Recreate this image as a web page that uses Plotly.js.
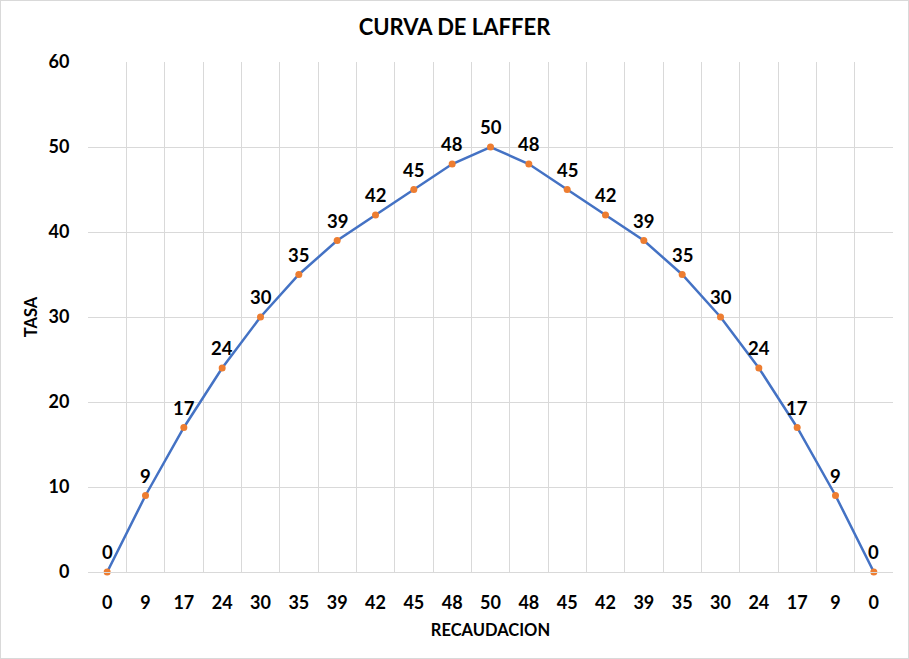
<!DOCTYPE html>
<html>
<head>
<meta charset="utf-8">
<script src="https://cdn.plot.ly/plotly-3.0.1.min.js"></script>
<style>
html,body{margin:0;padding:0;background:#fff;}
#wrap{position:relative;width:909px;height:659px;}
#chart{width:909px;height:659px;}
#frame{position:absolute;left:0;top:0;width:907px;height:657px;border:1px solid #d9d9d9;pointer-events:none;}
</style>
</head>
<body>
<div id="wrap"><div id="chart"></div><div id="frame"></div></div>
<script>
const categories = ["0","9","17","24","30","35","39","42","45","48","50","48","45","42","39","35","30","24","17","9","0"];
const values = [0,9,17,24,30,35,39,42,45,48,50,48,45,42,39,35,30,24,17,9,0];
const yTicks = [0,10,20,30,40,50,60];

const idx = categories.map((c,i)=>i);
const bounds = [];
for (let i = 0; i <= categories.length; i++) bounds.push(i - 0.5);

const FONT = "Lato, 'Open Sans', 'Liberation Sans', sans-serif";

const trace = {
  x: idx, y: values, type: 'scatter', mode: 'lines+markers',
  line: {color: '#4472C4', width: 2.5},
  marker: {color: '#ED7D31', size: 7},
  cliponaxis: false, hoverinfo: 'skip', xaxis: 'x', yaxis: 'y'
};
const gridTrace = {x: [0], y: [0], mode: 'markers', marker: {opacity: 0}, xaxis: 'x2', yaxis: 'y', hoverinfo: 'skip', showlegend: false};

const labels = values.map((v, i) => ({
  x: idx[i], y: v, xref: 'x', yref: 'y', text: String(v), showarrow: false,
  yanchor: 'middle', xanchor: 'center', yshift: 20,
  font: {family: FONT, size: 18.5, color: '#000', weight: 'bold'}
}));

const range = [-0.5, categories.length - 0.5];
const layout = {
  width: 909, height: 659,
  margin: {l: 88, r: 16, t: 62, b: 87},
  paper_bgcolor: '#fff', plot_bgcolor: '#fff',
  showlegend: false,
  annotations: labels,
  title: {text: 'CURVA DE LAFFER', x: 0.5, xref: 'container', xanchor: 'center', y: 0.959, yref: 'container', yanchor: 'middle',
          font: {family: FONT, size: 22, color: '#000', weight: 'bold'}},
  xaxis: {
    range: range, tickvals: idx, ticktext: categories, showgrid: false, zeroline: false,
    showline: true, linecolor: '#d9d9d9', linewidth: 1,
    ticks: 'outside', ticklen: 14, tickcolor: 'rgba(0,0,0,0)',
    tickfont: {family: FONT, size: 18, color: '#000', weight: 'bold'},
    title: {text: 'RECAUDACION', standoff: 12, font: {family: FONT, size: 16.5, color: '#000', weight: 'bold'}},
    fixedrange: true
  },
  xaxis2: {
    overlaying: 'x', range: range, tickvals: bounds, showticklabels: false, ticks: '',
    showgrid: true, gridcolor: '#d9d9d9', gridwidth: 1, zeroline: false, fixedrange: true
  },
  yaxis: {
    range: [0, 60], tickvals: yTicks, ticktext: yTicks.map(String),
    showgrid: true, gridcolor: '#d9d9d9', gridwidth: 1, zeroline: false, showline: false,
    ticks: 'outside', ticklen: 14, tickcolor: 'rgba(0,0,0,0)',
    tickfont: {family: FONT, size: 18, color: '#000', weight: 'bold'},
    title: {text: 'TASA', standoff: 6, font: {family: FONT, size: 16.5, color: '#000', weight: 'bold'}},
    fixedrange: true
  }
};
Plotly.newPlot('chart', [gridTrace, trace], layout, {displayModeBar: false, staticPlot: true});
</script>
</body>
</html>
